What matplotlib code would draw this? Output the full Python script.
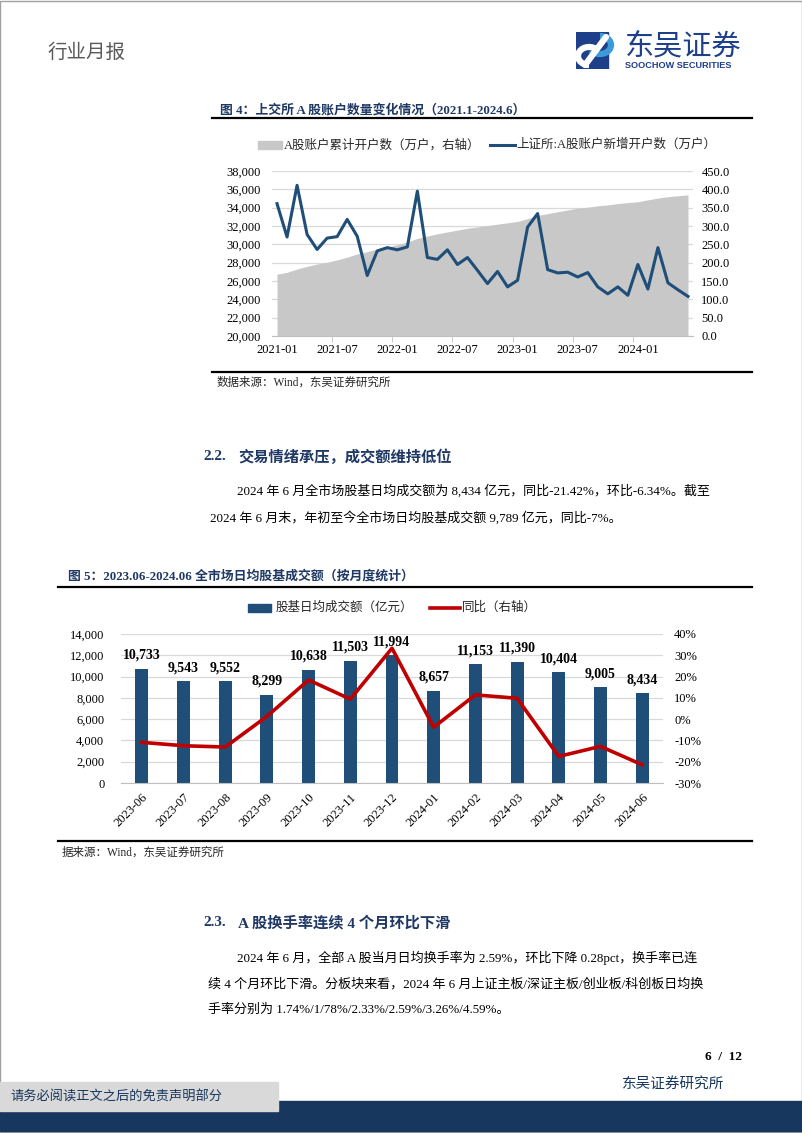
import matplotlib
matplotlib.use('Agg')
import matplotlib.pyplot as plt
import numpy as np
from matplotlib.patches import Rectangle, Arc
from matplotlib.lines import Line2D
from matplotlib.ticker import FuncFormatter, FixedLocator

plt.rcParams['font.family'] = ['Liberation Serif', 'Noto Sans CJK SC']
plt.rcParams['axes.unicode_minus'] = False

# ---- 图4 数据: 2021-01 ~ 2024-06 月度 ----
months4 = ['2021-01', '2021-02', '2021-03', '2021-04', '2021-05', '2021-06',
           '2021-07', '2021-08', '2021-09', '2021-10', '2021-11', '2021-12',
           '2022-01', '2022-02', '2022-03', '2022-04', '2022-05', '2022-06',
           '2022-07', '2022-08', '2022-09', '2022-10', '2022-11', '2022-12',
           '2023-01', '2023-02', '2023-03', '2023-04', '2023-05', '2023-06',
           '2023-07', '2023-08', '2023-09', '2023-10', '2023-11', '2023-12',
           '2024-01', '2024-02', '2024-03', '2024-04', '2024-05', '2024-06']
# A股账户累计开户数（万户）
cum_accounts = [26750, 26950, 27300, 27600, 27850, 28050, 28300, 28600, 28950, 29200,
                29500, 29700, 29950, 30250, 30650, 30900, 31150, 31350, 31550, 31750,
                31900, 32050, 32200, 32350, 32500, 32800, 33150, 33350, 33550, 33750,
                33950, 34050, 34200, 34300, 34450, 34550, 34650, 34850, 35050, 35200,
                35300, 35400]
# 上证所 A股账户新增开户数（万户）
new_accounts = [361, 270, 411, 277, 236, 267, 271, 318, 272, 165,
                232, 241, 235, 243, 395, 214, 209, 235, 195, 214,
                179, 143, 176, 134, 152, 297, 334, 181, 172, 174,
                161, 173, 134, 115, 134, 111, 195, 128, 241, 145,
                126, 108]
tick_labels4 = ['2021-01', '2021-07', '2022-01', '2022-07', '2023-01', '2023-07', '2024-01']

# ---- 图5 数据 ----
months5 = ['2023-06', '2023-07', '2023-08', '2023-09', '2023-10', '2023-11', '2023-12',
           '2024-01', '2024-02', '2024-03', '2024-04', '2024-05', '2024-06']
turnover = [10733, 9543, 9552, 8299, 10638, 11503, 11994, 8657, 11153, 11390, 10404, 9005, 8434]
yoy = [-10.9, -12.5, -13.1, 1.3, 18.4, 9.4, 33.3, -3.8, 11.4, 9.8, -17.5, -12.8, -21.42]

W, H = 802, 1133
NAVY = '#1f3864'
BLUE = '#1f4e79'
RED = '#c00000'
GRID = '#d9d9d9'
CJK = ['Liberation Serif', 'Noto Sans CJK SC']

fig = plt.figure(figsize=(W / 100, H / 100), dpi=100)


def px(x, y):
    return x / W, 1 - y / H


def text(x, y, s, **kw):
    kw.setdefault('va', 'center')
    kw.setdefault('family', CJK)
    fig.text(*px(x, y), s, **kw)


def hline(x0, x1, y, color='black', lw=1.0):
    fig.add_artist(Line2D([x0 / W, x1 / W], [1 - y / H, 1 - y / H], color=color, lw=lw))


def axes_px(x0, y0, x1, y1):
    return fig.add_axes([x0 / W, 1 - y1 / H, (x1 - x0) / W, (y1 - y0) / H])


# 页面边框
fig.add_artist(Rectangle((0.0005, 0.0005), 0.999, 0.999, fill=False, ec='#a0a0a0', lw=1.0))

# 页眉
text(47, 52, '行业月报', fontsize=14, color='#595959', family=['Noto Sans CJK SC'])
# logo
ax_logo = axes_px(576, 32, 622, 69)
ax_logo.set_xlim(0, 46)
ax_logo.set_ylim(37, 0)
ax_logo.axis('off')
ax_logo.add_patch(Rectangle((0, 0), 32, 37, color='#1e3f8a'))
ax_logo.add_patch(Arc((24, 13), 22, 18, theta1=-90, theta2=150, lw=4.5, color='#3d9ad8'))
ax_logo.add_patch(Arc((13, 24), 22, 18, theta1=90, theta2=330, lw=4.5, color='white'))
ax_logo.plot([9, 30], [33, 5], color='white', lw=4.5, solid_capstyle='round')
text(625, 46, '东吴证券', fontsize=21, color='#1e3f8a', family=['Noto Sans CJK SC'], weight='medium')
text(625, 65, 'SOOCHOW SECURITIES', fontsize=6.6, color='#1e3f8a', family=['Liberation Sans'], weight='bold')

# ---- 图4 ----
text(220, 110, '图 4：上交所 A 股账户数量变化情况（2021.1-2024.6）', fontsize=9.3, color=NAVY, weight='bold')
hline(212, 752, 118, lw=1.6)

# 图例
fig.add_artist(Rectangle((258 / W, 1 - 149 / H), 24 / W, 8 / H, color='#c8c8c8'))
text(284, 145, 'A股账户累计开户数（万户，右轴）', fontsize=9, color='#262626')
fig.add_artist(Line2D([490 / W, 515 / W], [1 - 145 / H] * 2, color=BLUE, lw=2.2))
text(516, 145, '上证所:A股账户新增开户数（万户）', fontsize=9, color='#262626')

x4 = np.arange(len(months4))
ax1 = axes_px(272, 171, 693, 336)
ax1.fill_between(x4, 20000, cum_accounts, color='#c8c8c8', lw=0, zorder=2)
ax1.set_xlim(-0.5, len(months4) - 0.5)
ax1.set_ylim(20000, 38000)
ax1.set_yticks(np.arange(20000, 38001, 2000))
ax1.yaxis.set_major_formatter(FuncFormatter(lambda v, p: f'{v:,.0f}'))
ax1.grid(axis='y', color=GRID, lw=0.9, zorder=0)
ax1.set_axisbelow(True)
ax1.set_xticks([months4.index(m) for m in tick_labels4])
ax1.set_xticklabels(tick_labels4)
ax1.xaxis.set_minor_locator(FixedLocator(np.arange(5.5, 41, 6)))
ax1.tick_params(axis='x', which='major', length=0, labelsize=9, pad=6)
ax1.tick_params(axis='x', which='minor', length=4, color='#bfbfbf')
ax1.tick_params(axis='y', length=0, labelsize=9, pad=8)
for s in ['top', 'left', 'right']:
    ax1.spines[s].set_visible(False)
ax1.spines['bottom'].set_color('#bfbfbf')

ax1r = ax1.twinx()
ax1r.plot(x4, new_accounts, color=BLUE, lw=2.2, zorder=3)
ax1r.set_ylim(0, 450)
ax1r.set_yticks(np.arange(0, 451, 50))
ax1r.yaxis.set_major_formatter(FuncFormatter(lambda v, p: f'{v:.1f}'))
ax1r.tick_params(axis='y', length=0, labelsize=9, pad=6)
for s in ['top', 'left', 'right', 'bottom']:
    ax1r.spines[s].set_visible(False)

hline(212, 752, 372, lw=1.6)
text(217, 383, '数据来源：Wind，东吴证券研究所', fontsize=8.3, color='#262626')

# ---- 2.2 ----
text(203, 457, '2.2.', fontsize=11, color=NAVY, weight='bold')
text(238, 457, '交易情绪承压，成交额维持低位', fontsize=11, color=NAVY, weight='bold')
text(237, 491, '2024 年 6 月全市场股基日均成交额为 8,434 亿元，同比-21.42%，环比-6.34%。截至',
     fontsize=9.4, color='black')
text(210, 518, '2024 年 6 月末，年初至今全市场日均股基成交额 9,789 亿元，同比-7%。',
     fontsize=9.4, color='black')

# ---- 图5 ----
text(68, 576, '图 5：2023.06-2024.06 全市场日均股基成交额（按月度统计）', fontsize=9.3, color=NAVY, weight='bold')
hline(58, 752, 587, lw=1.6)

fig.add_artist(Rectangle((248 / W, 1 - 612 / H), 23 / W, 8 / H, color=BLUE))
text(276, 608, '股基日均成交额（亿元）', fontsize=9, color='#262626')
fig.add_artist(Line2D([430 / W, 460 / W], [1 - 608 / H] * 2, color=RED, lw=2.6))
text(462, 608, '同比（右轴）', fontsize=9, color='#262626')

x5 = np.arange(len(months5))
ax2 = axes_px(121, 634, 663, 783)
bars = ax2.bar(x5, turnover, width=0.31, color=BLUE, zorder=2)
for xi, v in zip(x5, turnover):
    ax2.annotate(f'{v:,}', (xi, v), xytext=(0, 5), textcoords='offset points',
                 ha='center', va='bottom', fontsize=10, weight='bold', family=['Liberation Serif'])
ax2.set_xlim(-0.5, len(months5) - 0.5)
ax2.set_ylim(0, 14000)
ax2.set_yticks(np.arange(0, 14001, 2000))
ax2.yaxis.set_major_formatter(FuncFormatter(lambda v, p: f'{v:,.0f}'))
ax2.grid(axis='y', color=GRID, lw=0.9, zorder=0)
ax2.set_axisbelow(True)
ax2.set_xticks(x5)
ax2.set_xticklabels(months5, rotation=45, ha='right', va='top', rotation_mode='anchor')
ax2.tick_params(axis='x', length=0, labelsize=9, pad=6)
ax2.tick_params(axis='y', length=0, labelsize=9, pad=12)
for s in ['top', 'left', 'right']:
    ax2.spines[s].set_visible(False)
ax2.spines['bottom'].set_color('#bfbfbf')

ax2r = ax2.twinx()
ax2r.plot(x5, yoy, color=RED, lw=2.6, zorder=3)
ax2r.set_ylim(-30, 40)
ax2r.set_yticks(np.arange(-30, 41, 10))
ax2r.yaxis.set_major_formatter(FuncFormatter(lambda v, p: f'{v:.0f}%'))
ax2r.tick_params(axis='y', length=0, labelsize=9, pad=8)
for s in ['top', 'left', 'right', 'bottom']:
    ax2r.spines[s].set_visible(False)

hline(58, 752, 841, lw=1.6)
text(62, 853, '据来源：Wind，东吴证券研究所', fontsize=8.3, color='#262626')

# ---- 2.3 ----
text(203, 923, '2.3.', fontsize=11, color=NAVY, weight='bold')
text(238, 923, 'A 股换手率连续 4 个月环比下滑', fontsize=11, color=NAVY, weight='bold')
text(237, 958, '2024 年 6 月，全部 A 股当月日均换手率为 2.59%，环比下降 0.28pct，换手率已连',
     fontsize=9.4, color='black')
text(208, 984, '续 4 个月环比下滑。分板块来看，2024 年 6 月上证主板/深证主板/创业板/科创板日均换',
     fontsize=9.4, color='black')
text(208, 1010, '手率分别为 1.74%/1/78%/2.33%/2.59%/3.26%/4.59%。', fontsize=9.4, color='black')

# ---- 页脚 ----
text(742, 1057, '6  /  12', fontsize=9.5, weight='bold', ha='right', family=['Liberation Serif'])
text(622, 1084, '东吴证券研究所', fontsize=10.5, color='#17375e')
fig.add_artist(Rectangle((0, 1 - 1131 / H), 1, 30 / H, color='#17375e'))
fig.add_artist(Rectangle((0, 1 - 1111 / H), 278 / W, 29 / H, color='#d9d9d9'))
text(10, 1097, '请务必阅读正文之后的免责声明部分', fontsize=9.5, color='#17375e', family=['Noto Sans CJK SC'])

fig.savefig('out.png', dpi=100)
